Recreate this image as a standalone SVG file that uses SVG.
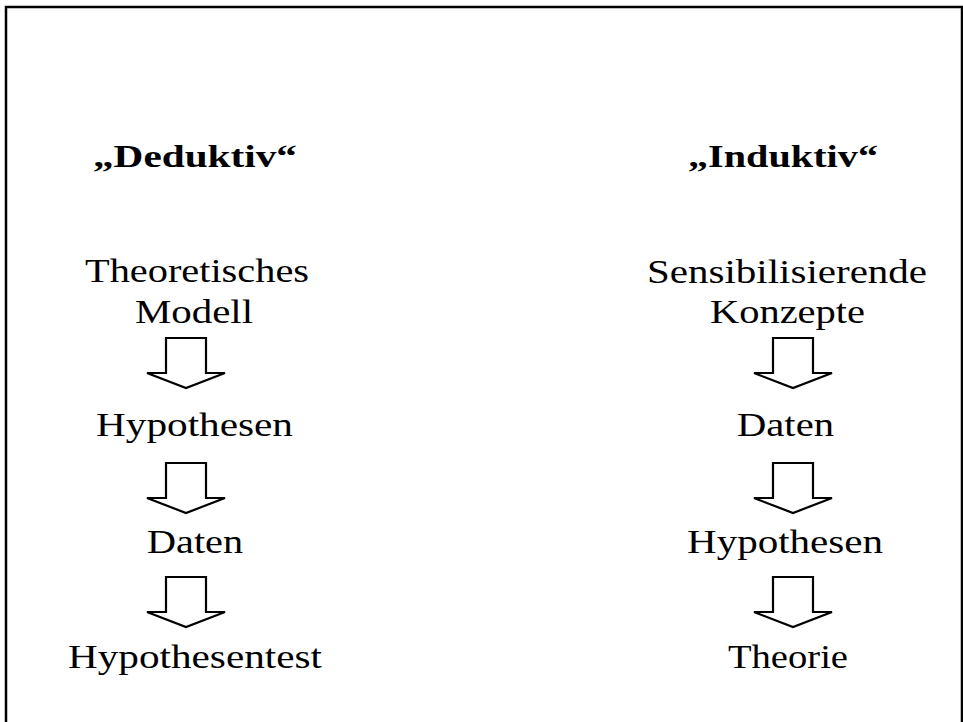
<svg xmlns="http://www.w3.org/2000/svg" width="963" height="722" viewBox="0 0 963 722">
<defs>
<style>
.a{fill:#fff;stroke:#000;stroke-width:2.2;stroke-linejoin:miter}
</style>
<path id="arr" d="M-20,0 H20 V35 H39 L0,50 L-39,35 H-20 Z"/>
</defs>
<rect width="963" height="722" fill="#fff"/>
<path d="M6,722 V7 H962 V722" fill="none" stroke="#000" stroke-width="2.5"/>
<g font-family="'Liberation Serif', 'Times New Roman', serif" font-weight="bold" font-size="31" fill="#000">
<g id="deduktiv-head"><text x="93" y="167" textLength="204" lengthAdjust="spacingAndGlyphs">„Deduktiv“</text></g>
<g id="induktiv-head"><text x="688" y="167" textLength="190" lengthAdjust="spacingAndGlyphs">„Induktiv“</text></g>
</g>
<g font-family="'Liberation Serif', 'Times New Roman', serif" font-size="33" fill="#000">
<g id="d-modell">
<text x="85" y="282" textLength="224" lengthAdjust="spacingAndGlyphs">Theoretisches</text>
<text x="135" y="323" textLength="118" lengthAdjust="spacingAndGlyphs">Modell</text>
</g>
<g id="d-hypothesen"><text x="96" y="436" textLength="197" lengthAdjust="spacingAndGlyphs">Hypothesen</text></g>
<g id="d-daten"><text x="147" y="553" textLength="96" lengthAdjust="spacingAndGlyphs">Daten</text></g>
<g id="d-test"><text x="68" y="668" textLength="254" lengthAdjust="spacingAndGlyphs">Hypothesentest</text></g>
<g id="i-konzepte">
<text x="647" y="283" textLength="280" lengthAdjust="spacingAndGlyphs">Sensibilisierende</text>
<text x="710" y="323" textLength="155" lengthAdjust="spacingAndGlyphs">Konzepte</text>
</g>
<g id="i-daten"><text x="737" y="436" textLength="97" lengthAdjust="spacingAndGlyphs">Daten</text></g>
<g id="i-hypothesen"><text x="687" y="553" textLength="196" lengthAdjust="spacingAndGlyphs">Hypothesen</text></g>
<g id="i-theorie"><text x="728" y="668" textLength="120" lengthAdjust="spacingAndGlyphs">Theorie</text></g>
</g>
<g id="connectors">
<use href="#arr" class="a" x="186" y="338"/>
<use href="#arr" class="a" x="186" y="463"/>
<use href="#arr" class="a" x="186" y="577"/>
<use href="#arr" class="a" x="793" y="338"/>
<use href="#arr" class="a" x="793" y="463"/>
<use href="#arr" class="a" x="793" y="577"/>
</g>
</svg>
